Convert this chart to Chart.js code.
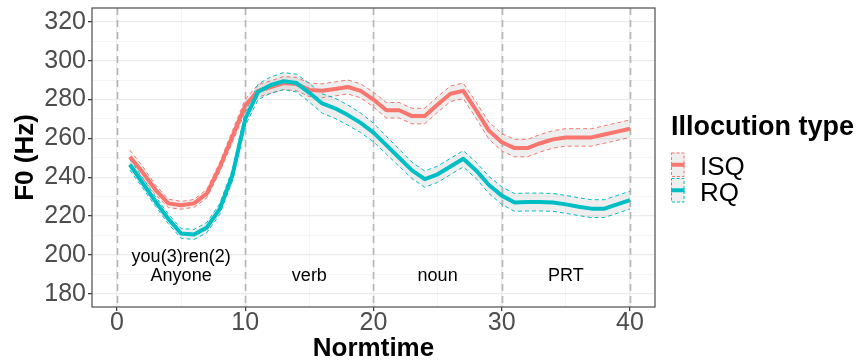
<!DOCTYPE html>
<html>
<head>
<meta charset="utf-8">
<script src="https://cdn.jsdelivr.net/npm/chart.js@4.4.1/dist/chart.umd.min.js"></script>
<style>
  html, body { margin: 0; padding: 0; background: #ffffff; }
  #wrap { width: 856px; height: 364px; position: relative; }
</style>
</head>
<body>
<div id="wrap"><canvas id="c" width="856" height="364"></canvas></div>
<script>
// ---------------- data ----------------
const normtime = [1,2,3,4,5,6,7,8,9,10,11,12,13,14,15,16,17,18,19,20,21,22,23,24,25,26,27,28,29,30,31,32,33,34,35,36,37,38,39,40];

const isqF0 = [250.5,242.5,233.5,226.5,225.5,226.5,231.5,245,261,277,
               284.5,286.5,288.5,288,285,284.5,285.5,286.5,284.5,280,
               274.5,274.5,271.5,271.5,277.5,283,284.5,274.5,264,258,
               255,255,257.5,259.5,260.5,260.5,260.5,262,263.5,265];
const isqCI = [3.5,3,2.5,2.2,2,2,2.2,2.5,3,3.2,
               3.2,3.2,3.4,3.4,3.5,3.6,3.6,3.6,3.6,3.8,
               4,4,4,4,4,4,4,4.2,4.4,4.5,
               4.5,4.5,4.5,4.5,4.5,4.5,4.5,4.5,4.5,4.5];

const rqF0 = [246.5,237,227.5,218.5,211,210.5,214,223.5,241,270,
              284,287.5,289.5,288.5,283.5,278,275.5,272,268,263,
              256.5,250,243.5,239,241.5,245.5,249.5,243.5,236,230.5,
              227,227.2,227.2,227,226,224.8,223.8,223.8,226,228.2];
const rqCI = [2.8,2.6,2.5,2.5,2.5,2.6,2.6,2.8,3,3.5,
              4,4.2,4.4,4.6,4.8,5,5.2,5.2,5,4.8,
              4.6,4.4,4.2,4.2,4.2,4.2,4.2,4.2,4.4,4.5,
              4.6,4.6,4.6,4.6,4.6,4.6,4.6,4.6,4.6,4.6];

const seriesNames = ['ISQ', 'RQ'];
const legendTitle = 'Illocution type';
const xTickLabels = [0, 10, 20, 30, 40];
const xMinorGrid = [5, 15, 25, 35];
const yTickLabels = [180, 200, 220, 240, 260, 280, 300, 320];
const yMinorGrid = [190, 210, 230, 250, 270, 290, 310];
const segmentBoundaries = [0, 10, 20, 30, 40];
const segmentNames = ['Anyone', 'verb', 'noun', 'PRT'];
const segmentCenters = [5, 15, 25, 35];
const segmentNameY = 189;
const glossText = 'you(3)ren(2)';
const glossX = 5;
const glossY = 199;

// ---------------- styling ----------------
const FONT = '"Liberation Sans", Arial, Helvetica, sans-serif';
const COLORS = { ISQ: '#F8766D', RQ: '#00BFC4' };
const RIBBON = 'rgba(150,150,150,0.16)';

const pts = (ys) => normtime.map((x, i) => ({ x: x, y: ys[i] }));
const bandPts = (ys, ci, sign) => normtime.map((x, i) => ({ x: x, y: ys[i] + sign * ci[i] }));

const meanDs = (name, ys) => ({
  label: name, data: pts(ys), borderColor: COLORS[name], borderWidth: 4,
  pointRadius: 0, fill: false, tension: 0, borderJoinStyle: 'round'
});
const edgeDs = (name, ys, ci, sign) => ({
  label: name + (sign > 0 ? ' upper' : ' lower'), data: bandPts(ys, ci, sign),
  borderColor: COLORS[name], borderWidth: 1, borderDash: [4, 3],
  pointRadius: 0, tension: 0,
  fill: sign > 0 ? '+1' : false, backgroundColor: RIBBON
});

const isMajorX = (c) => c.tick && xTickLabels.includes(c.tick.value);
const isMajorY = (c) => c.tick && yTickLabels.includes(c.tick.value);

const decor = {
  id: 'decor',
  beforeDatasetsDraw(chart) {
    const { ctx, chartArea: a, scales: { x } } = chart;
    ctx.save();
    ctx.strokeStyle = '#b5b5b5';
    ctx.lineWidth = 1.6;
    ctx.setLineDash([7, 5]);
    segmentBoundaries.forEach(v => {
      const px = Math.round(x.getPixelForValue(v)) + 0.5;
      ctx.beginPath();
      ctx.moveTo(px, a.top);
      ctx.lineTo(px, a.bottom);
      ctx.stroke();
    });
    ctx.restore();
  },
  afterDatasetsDraw(chart) {
    const { ctx, scales: { x, y } } = chart;
    ctx.save();
    ctx.fillStyle = '#000000';
    ctx.font = '18px ' + FONT;
    ctx.textAlign = 'center';
    ctx.textBaseline = 'middle';
    segmentNames.forEach((t, i) => {
      ctx.fillText(t, x.getPixelForValue(segmentCenters[i]), y.getPixelForValue(segmentNameY));
    });
    ctx.fillText(glossText, x.getPixelForValue(glossX), y.getPixelForValue(glossY));
    ctx.restore();
  },
  afterDraw(chart) {
    const { ctx, chartArea: a } = chart;
    ctx.save();
    // panel border
    ctx.strokeStyle = '#4d4d4d';
    ctx.lineWidth = 1.2;
    ctx.strokeRect(a.left, a.top, a.right - a.left, a.bottom - a.top);
    // legend
    const lx = a.right + 16;
    ctx.fillStyle = '#000000';
    ctx.font = 'bold 27px ' + FONT;
    ctx.textAlign = 'left';
    ctx.textBaseline = 'alphabetic';
    ctx.fillText(legendTitle, lx, 135);
    seriesNames.forEach((name, i) => {
      const top = 152.5 + i * 25.5;
      const kw = 13.5, kh = 24.5;
      ctx.fillStyle = '#efefef';
      ctx.fillRect(lx, top, kw, kh);
      ctx.setLineDash([3, 2]);
      ctx.lineWidth = 1;
      ctx.strokeStyle = COLORS[name];
      ctx.strokeRect(lx + 0.5, top + 0.5, kw - 1, kh - 1);
      ctx.setLineDash([]);
      ctx.lineWidth = 4;
      ctx.beginPath();
      ctx.moveTo(lx, top + kh / 2);
      ctx.lineTo(lx + kw, top + kh / 2);
      ctx.stroke();
      ctx.fillStyle = '#000000';
      ctx.font = '26px ' + FONT;
      ctx.fillText(name, lx + 29, top + 22.5);
    });
    ctx.restore();
  }
};

const noPad = (s) => { s.paddingTop = 0; s.paddingBottom = 0; s.paddingLeft = 0; s.paddingRight = 0; };

new Chart(document.getElementById('c'), {
  type: 'line',
  data: {
    datasets: [
      meanDs('RQ', rqF0),
      meanDs('ISQ', isqF0),
      edgeDs('RQ', rqF0, rqCI, 1),
      edgeDs('RQ', rqF0, rqCI, -1),
      edgeDs('ISQ', isqF0, isqCI, 1),
      edgeDs('ISQ', isqF0, isqCI, -1)
    ]
  },
  options: {
    responsive: false,
    animation: false,
    devicePixelRatio: 1,
    layout: { padding: { left: 0, right: 201, top: 8, bottom: 0 } },
    plugins: {
      legend: { display: false },
      tooltip: { enabled: false },
      filler: { propagate: false }
    },
    scales: {
      x: {
        type: 'linear', min: -1.95, max: 41.95,
        afterBuildTicks: (s) => { s.ticks = xTickLabels.concat(xMinorGrid).sort((a, b) => a - b).map(v => ({ value: v })); },
        afterFit: (s) => { s.height = 57; noPad(s); },
        ticks: {
          autoSkip: false, maxRotation: 0, padding: 0,
          font: { family: FONT, size: 25, lineHeight: 1 }, color: '#4d4d4d',
          callback: (v) => xTickLabels.includes(v) ? String(v) : ''
        },
        grid: {
          color: (c) => isMajorX(c) ? '#ebebeb' : '#f3f3f3',
          lineWidth: (c) => isMajorX(c) ? 1.3 : 0.8,
          tickLength: 4, tickWidth: 1.2,
          tickColor: (c) => isMajorX(c) ? '#333333' : 'rgba(0,0,0,0)'
        },
        border: { display: false },
        title: { display: true, text: 'Normtime', color: '#000000',
          font: { family: FONT, size: 26, weight: 'bold' }, padding: { top: 0, bottom: 0 } }
      },
      y: {
        type: 'linear', min: 173.1, max: 327.2,
        afterBuildTicks: (s) => { s.ticks = yTickLabels.concat(yMinorGrid).sort((a, b) => a - b).map(v => ({ value: v })); },
        afterFit: (s) => { s.width = 92; noPad(s); },
        ticks: {
          autoSkip: false, padding: 2,
          font: { family: FONT, size: 25 }, color: '#4d4d4d',
          callback: (v) => yTickLabels.includes(v) ? String(v) : ''
        },
        grid: {
          color: (c) => isMajorY(c) ? '#ebebeb' : '#f3f3f3',
          lineWidth: (c) => isMajorY(c) ? 1.3 : 0.8,
          tickLength: 4, tickWidth: 1.2,
          tickColor: (c) => isMajorY(c) ? '#333333' : 'rgba(0,0,0,0)'
        },
        border: { display: false },
        title: { display: true, text: 'F0 (Hz)', color: '#000000',
          font: { family: FONT, size: 26, weight: 'bold' }, padding: { top: 10, bottom: 0 } }
      }
    }
  },
  plugins: [decor]
});
</script>
</body>
</html>
